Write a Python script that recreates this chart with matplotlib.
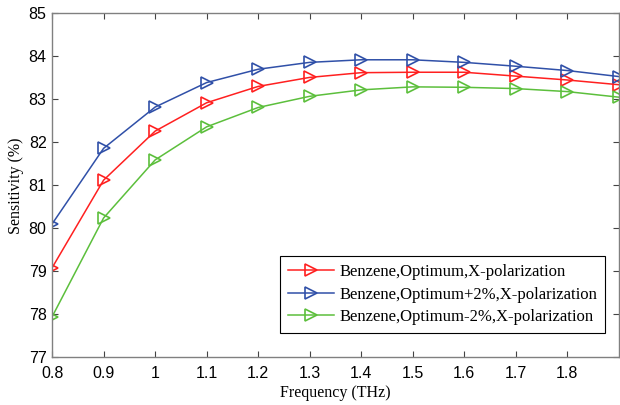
import matplotlib
matplotlib.use("Agg")
import matplotlib.pyplot as plt

freq = [0.8, 0.9, 1.0, 1.1, 1.2, 1.3, 1.4, 1.5, 1.6, 1.7, 1.8, 1.9]
sens_opt = [79.08, 81.12, 82.26, 82.92, 83.30, 83.51, 83.62, 83.63, 83.63, 83.54, 83.45, 83.34]
sens_plus = [80.10, 81.86, 82.82, 83.39, 83.70, 83.86, 83.92, 83.92, 83.86, 83.77, 83.67, 83.53]
sens_minus = [77.94, 80.24, 81.59, 82.36, 82.81, 83.07, 83.22, 83.29, 83.28, 83.25, 83.18, 83.05]
labels = ["Benzene,Optimum,X-polarization",
          "Benzene,Optimum+2%,X-polarization",
          "Benzene,Optimum-2%,X-polarization"]
xticks = [0.8, 0.9, 1.0, 1.1, 1.2, 1.3, 1.4, 1.5, 1.6, 1.7, 1.8]
xticklabels = ["0.8", "0.9", "1", "1.1", "1.2", "1.3", "1.4", "1.5", "1.6", "1.7", "1.8"]
yticks = [77, 78, 79, 80, 81, 82, 83, 84, 85]

fig = plt.figure(figsize=(6.2, 4.05), dpi=100)
ax = fig.add_axes([0.084, 0.118, 0.914, 0.849])

colors = ["#ff2020", "#3050a8", "#5cbf3c"]
for y, c, lab in zip([sens_opt, sens_plus, sens_minus], colors, labels):
    ax.plot(freq, y, color=c, lw=1.1, marker=">", markersize=8,
            markerfacecolor="none", markeredgecolor=c, markeredgewidth=1.2, label=lab)

ax.set_xlim(0.8, 1.9)
ax.set_ylim(77, 85)
ax.set_xticks(xticks)
ax.set_xticklabels(xticklabels)
ax.set_yticks(yticks)
ax.tick_params(direction="in", top=True, right=True, length=4, color="#444444",
               labelsize=11.5)
ax.tick_params(axis="x", pad=6)
ax.tick_params(axis="y", pad=4)
for lab in ax.get_xticklabels() + ax.get_yticklabels():
    lab.set_fontfamily("Liberation Sans")
for s in ax.spines.values():
    s.set_color("#808080")
    s.set_linewidth(1.0)

ax.set_xlabel("Frequency (THz)", fontfamily="Liberation Serif", fontsize=11.5, labelpad=3)
ax.set_ylabel("Sensitivity (%)", fontfamily="Liberation Serif", fontsize=11.5, labelpad=3)

leg = ax.legend(loc="lower right", bbox_to_anchor=(0.99, 0.047),
                prop={"family": "Liberation Serif", "size": 12},
                fancybox=False, framealpha=1, edgecolor="black",
                handlelength=2.8, handletextpad=0.3, borderpad=0.45, labelspacing=0.4)
leg.get_frame().set_linewidth(0.8)

fig.savefig("out.png", dpi=100)
